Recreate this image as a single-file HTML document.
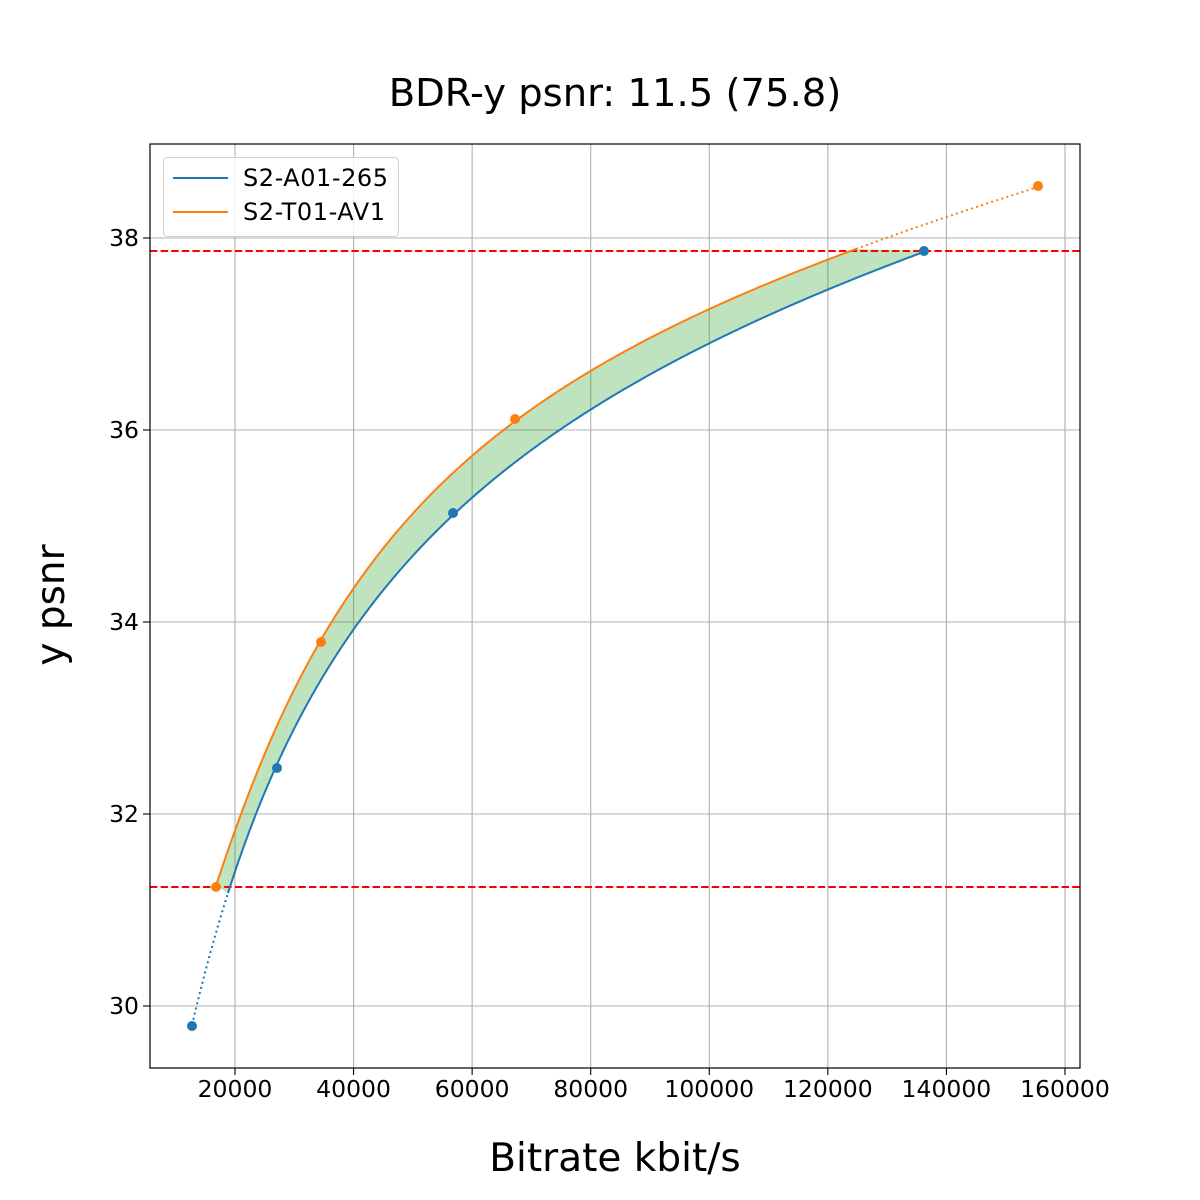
<!DOCTYPE html>
<html><head><meta charset="utf-8"><style>
html,body{margin:0;padding:0;background:#fff;}
svg{display:block;font-family:"DejaVu Sans","Liberation Sans",sans-serif;}
</style></head><body>
<svg id="s" width="1200" height="1200" viewBox="0 0 1200 1200" xmlns="http://www.w3.org/2000/svg">
<rect width="1200" height="1200" fill="#fff"/>
<g id="grid" stroke="#b0b0b0" stroke-width="1.1"></g>
<path id="fill" fill="#2ca02c" fill-opacity="0.3" stroke="none"/>
<line x1="150" x2="1080" y1="251" y2="251" stroke="#ff0000" stroke-width="2" stroke-dasharray="7.4,3.2"/>
<line x1="150" x2="1080" y1="887" y2="887" stroke="#ff0000" stroke-width="2" stroke-dasharray="7.4,3.2"/>
<path id="bdot" fill="none" stroke="#1f77b4" stroke-width="2" stroke-dasharray="2,3.3"/>
<path id="odot" fill="none" stroke="#ff7f0e" stroke-width="2" stroke-dasharray="2,3.3"/>
<path id="bsol" fill="none" stroke="#1f77b4" stroke-width="2"/>
<path id="osol" fill="none" stroke="#ff7f0e" stroke-width="2"/>
<g fill="#1f77b4"><circle cx="192" cy="1026" r="5"/><circle cx="277" cy="768" r="5"/><circle cx="453" cy="513" r="5"/><circle cx="924" cy="251" r="5"/></g>
<g fill="#ff7f0e"><circle cx="216" cy="887" r="5"/><circle cx="321" cy="642" r="5"/><circle cx="515" cy="419" r="5"/><circle cx="1038" cy="186" r="5"/></g>
<rect x="150" y="144" width="930" height="924" fill="none" stroke="#000" stroke-width="1.2"/>
<g id="ticks" stroke="#000" stroke-width="1.1"></g>
<g id="tl" font-size="23.5" fill="#000"></g>
<rect x="163.5" y="157.5" width="235" height="79" rx="4" fill="#fff" fill-opacity="0.8" stroke="#d0d0d0"/>
<line x1="173" x2="228" y1="178" y2="178" stroke="#1f77b4" stroke-width="2"/>
<line x1="173" x2="228" y1="212" y2="212" stroke="#ff7f0e" stroke-width="2"/>
<text x="243" y="186" font-size="24" textLength="145">S2-A01-265</text>
<text x="243" y="220" font-size="24" textLength="142">S2-T01-AV1</text>
<text x="615" y="106" font-size="38.5" text-anchor="middle">BDR-y psnr: 11.5 (75.8)</text>
<text x="615" y="1171" font-size="39" text-anchor="middle">Bitrate kbit/s</text>
<text transform="translate(64,605) rotate(-90)" font-size="39" text-anchor="middle">y psnr</text>
</svg>
<script>
var NS="http://www.w3.org/2000/svg";
function X(v){return 235+(v-20000)*118.57/20000;}
function el(p,t,a,txt){var e=document.createElementNS(NS,t);for(var k in a)e.setAttribute(k,a[k]);if(txt)e.textContent=txt;document.getElementById(p).appendChild(e);}
for(var v=20000;v<=160000;v+=20000){var x=X(v);el("grid","line",{x1:x,x2:x,y1:144,y2:1068});el("ticks","line",{x1:x,x2:x,y1:1068,y2:1075});el("tl","text",{x:x,y:1097,"text-anchor":"middle"},String(v));}
for(var p=30;p<=38;p+=2){var y=1006-(p-30)*96;el("grid","line",{x1:150,x2:1080,y1:y,y2:y});el("ticks","line",{x1:143,x2:150,y1:y,y2:y});el("tl","text",{x:139,y:y+8,"text-anchor":"end"},String(p));}
function px2L(x){return Math.log((x-235)/118.57*20000+20000);}
function fit(K,deg){var n=deg+1,A=[],b=[];for(var i=0;i<n;i++){A.push(new Array(n).fill(0));b.push(0);}
var L0=11;K.forEach(function(k){var t=px2L(k[0])-L0,w=k[2]||1;for(var i=0;i<n;i++){for(var j=0;j<n;j++)A[i][j]+=w*Math.pow(t,i+j);b[i]+=w*k[1]*Math.pow(t,i);}});
for(var c=0;c<n;c++){var pv=c;for(var r=c+1;r<n;r++)if(Math.abs(A[r][c])>Math.abs(A[pv][c]))pv=r;var tA=A[c];A[c]=A[pv];A[pv]=tA;var tb=b[c];b[c]=b[pv];b[pv]=tb;
for(var r=0;r<n;r++)if(r!=c){var f=A[r][c]/A[c][c];for(var j=c;j<n;j++)A[r][j]-=f*A[c][j];b[r]-=f*b[c];}}
var co=b.map(function(v,i){return v/A[i][i];});
return function(x){var t=px2L(x)-L0,s=0;for(var i=0;i<n;i++)s+=co[i]*Math.pow(t,i);return s;};}
function curve(f,a,b){var r=[];for(var i=0;i<=400;i++){var x=a+(b-a)*i/400;r.push([x,f(x)]);}return r;}
function d(r){return "M"+r.map(function(q){return q[0].toFixed(2)+","+q[1].toFixed(2);}).join("L");}
var fo=fit([[216,887,5],[236,814],[321,642,5],[353,590],[473,457],[515,419,5],[591,368],[709,311],[829,262],[856,251,3],[946,218],[1038,186,5]],4);
var fb=fit([[192,1026,5],[209,950],[228,887],[255,814],[277,768,5],[353,627],[453,513,5],[473,497],[591,412],[709,348],[829,292],[924,251,5]],4);
var os=curve(fo,216,856),bs=curve(fb,228,924);
document.getElementById("osol").setAttribute("d",d(os));
document.getElementById("bsol").setAttribute("d",d(bs));
document.getElementById("odot").setAttribute("d",d(curve(fo,856,1038)));
document.getElementById("bdot").setAttribute("d",d(curve(fb,192,228)));
document.getElementById("fill").setAttribute("d",d(os.concat([[924,251]]).concat(bs.slice().reverse()))+"Z");
</script>
</body></html>
